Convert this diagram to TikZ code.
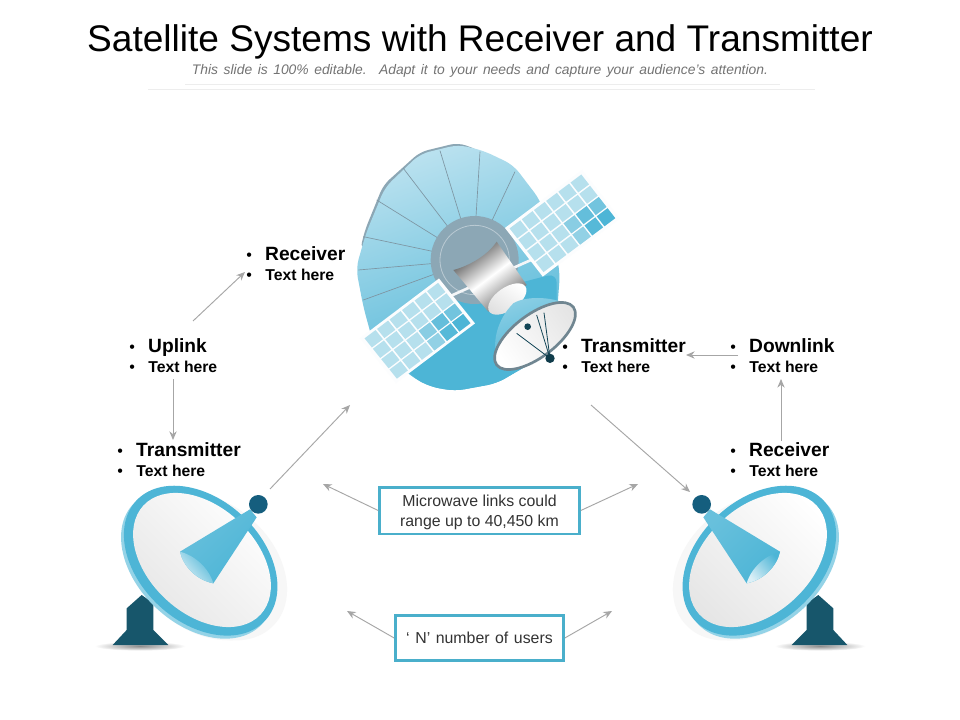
\documentclass[tikz,border=0pt]{standalone}
\usepackage{fontspec}
\setmainfont{Liberation Sans}
\usetikzlibrary{arrows.meta}
\definecolor{skyb}{HTML}{4DB5D6}
\definecolor{skyl}{HTML}{B9E1EF}
\definecolor{cellc}{HTML}{A9DAEA}
\definecolor{navy}{HTML}{17566B}
\definecolor{knob}{HTML}{155E7E}
\definecolor{hubc}{HTML}{8CA7B5}
\definecolor{linkc}{HTML}{A6A6A6}
\definecolor{boxc}{HTML}{4AAFCB}
\tikzset{
  px/.style={x=0.75pt,y=-0.75pt},
  zoomed/.style={x=0.25pt,y=-0.25pt},
  link/.style={draw=linkc,line width=0.7pt,-{Stealth[length=6.5pt,width=5.5pt]}},
  headtxt/.style={anchor=base west,inner sep=0pt,font=\fontsize{14.4pt}{16pt}\selectfont\bfseries},
  subtxt/.style={anchor=base west,inner sep=0pt,font=\fontsize{11.8pt}{13pt}\selectfont\bfseries},
  notebox/.style={draw=boxc,line width=2pt,fill=white,align=center,inner sep=0pt,font=\fontsize{11.9pt}{15pt}\selectfont,text=black!80},
  spoke/.style={draw=hubc!90!black,line width=0.5pt},
}
\newcommand{\smallbullet}{{\normalfont\fontsize{12pt}{10pt}\selectfont •}}
\newcommand{\lab}[4]{%
  \node[headtxt] (#1h) at (#2,#3+7) {\makebox[14.2pt][l]{\smallbullet}#4};
  \node[subtxt] (#1s) at (#2,#3+27) {\makebox[14.4pt][l]{\smallbullet}Text here};
}
\newcommand{\panel}[1]{%
  \begin{scope}[#1]
    \fill[white!96!cellc] (-.16,-.16) -- (6.16,-.16) -- (6.16,4.16) -- (-.16,4.16) -- cycle;
    \foreach \i in {0,...,5}{\foreach \j in {0,...,3}{
      \fill[cellc!85!white] (\i+.06,\j+.06) -- (\i+.94,\j+.06) -- (\i+.94,\j+.94) -- (\i+.06,\j+.94) -- cycle;
    }}
    \foreach \i/\j/\c in {5/3/100,4/3/90,5/2/60,4/2/75,3/2/35,3/3/25}{
      \fill[skyb!\c!cellc] (\i+.06,\j+.06) -- (\i+.94,\j+.06) -- (\i+.94,\j+.94) -- (\i+.06,\j+.94) -- cycle;
    }
  \end{scope}
}
\newcommand{\groundDish}{%
  \fill[black!3] (335,285) ellipse [x radius=66pt,y radius=46.5pt,rotate=-43];
  \fill[black!3] (365,290) ellipse [x radius=64pt,y radius=46.5pt,rotate=-43];
  \shade[inner color=black!45,outer color=white] (150,528) ellipse [x radius=34pt,y radius=3.5pt];
  \fill[navy] (155,375) -- (110,415) -- (110,480) -- (68,525) -- (235,525) -- (190,480) -- (190,400) -- cycle;
  \fill[skyb!60!white] (322,283) ellipse [x radius=66pt,y radius=45pt,rotate=-43];
  \fill[skyb] (332,272) ellipse [x radius=66pt,y radius=46pt,rotate=-43];
  \shade[left color=white,right color=black!10,shading angle=-45] (336,270) ellipse [x radius=60pt,y radius=40pt,rotate=-43];
  \shade[left color=skyb!85!white,right color=skyb,shading angle=45] (480,118) -- (500,142) -- (370,340) .. controls (320,330) and (280,290) .. (270,245) -- cycle;
  \shade[left color=skyb,right color=skyl!50!white,shading angle=-50] (270,245) .. controls (310,255) and (355,290) .. (370,340) .. controls (320,330) and (280,290) .. (270,245) -- cycle;
  \fill[knob] (505,103) circle [radius=7pt];
}
\begin{document}
\begin{tikzpicture}[px]
\useasboundingbox (0,0) rectangle (960,720);
\fill[white] (0,0) rectangle (960,720);

% title block
\node[inner sep=0pt,font=\fontsize{27.8pt}{32pt}\selectfont] (title) at (480,42) {Satellite Systems with Receiver and Transmitter};
\node[inner sep=0pt,text=black!55,font=\fontsize{10.4pt}{13pt}\selectfont\itshape] (subtitle) at (480,71) {\spaceskip=0.4em\relax This slide is 100\% editable. \ Adapt it to your needs and capture your audience\char"27 s attention.};
\coordinate (ruleAa) at (185,84); \coordinate (ruleAb) at (780,84);
\coordinate (ruleBa) at (148,89); \coordinate (ruleBb) at (815,89);
\draw[black!7,line width=0.6pt] (ruleAa) -- (ruleAb);
\draw[black!7,line width=0.6pt] (ruleBa) -- (ruleBb);

% satellite (coordinates: zoomed px)
\begin{scope}[shift={(340,130)},zoomed]
  \fill[hubc,rounded corners=6pt] (355,38) -- (240,66) -- (130,165) -- (75,300) -- (60,360) -- (120,300) -- (300,100) -- (420,62) -- cycle;
  \path[shade,left color=skyl,right color=skyb,shading angle=20,rounded corners=7pt]
    (355,44) -- (240,72) -- (135,172) -- (78,310) -- (48,415) -- (70,530) -- (100,640) -- (215,740) -- (270,770) -- (345,783) -- (470,760) -- (590,690) -- (650,560) -- (660,430) -- (640,330) -- (600,210) -- (520,105) -- (430,62) -- cycle;
  \fill[skyb,rounded corners=7pt] (300,520) -- (650,430) -- (650,560) -- (590,690) -- (470,760) -- (345,783) -- (270,770) -- (215,740) -- (190,700) -- cycle;
  \foreach \ex/\ey in {300/62,190/115,110/210,70/320,55/420,70/510,420/65,525/125}{
    \draw[spoke] (400,390) -- (\ex,\ey);
  }
  \fill[hubc] (404,390) circle [radius=33pt];
  \draw[hubc!60!white,line width=0.6pt] (404,390) circle [radius=26pt];
  \draw[white!90!hubc,line width=2pt] (300,512) -- (640,360);
  \shade[left color=black!70,right color=black!60,middle color=white,shading angle=37]
    (340,420) .. controls (380,410) and (440,380) .. (470,335) -- (560,465) -- (445,545) -- cycle;
  \shade[left color=white,right color=black!12,shading angle=-35] (502,507) ellipse [x radius=16.5pt,y radius=8.5pt,rotate=35];
  \shade[left color=skyl!60!skyb,right color=skyb,shading angle=20]
    (472,690) .. controls (455,640) and (470,570) .. (520,520) .. controls (560,495) and (650,500) .. (695,530) -- cycle;
  \shade[left color=black!10,right color=white,shading angle=-55,draw=hubc!80!black,line width=2pt]
    (585,618) ellipse [x radius=36pt,y radius=16pt,rotate=37];
  \fill[navy!80!black] (563,590) circle [radius=2.5pt];
  \foreach \sx/\sy in {530/610,590/555,612/548}{
    \draw[navy!80!black,line width=0.6pt] (630,685) -- (\sx,\sy);
  }
  \fill[navy!70!black] (630,685) circle [radius=3.5pt];
\end{scope}
\panel{shift={(508.3,228.3)},x={(9.15pt,6.88pt)},y={(6.56pt,-8.44pt)}}
\panel{shift={(363.3,338.3)},x={(9.38pt,7.08pt)},y={(6.25pt,-7.8pt)}}

% ground dishes
\begin{scope}[shift={(90,470)},zoomed]
  \groundDish
\end{scope}
\begin{scope}[shift={(960,0)},xscale=-1]
  \begin{scope}[shift={(90,470)},zoomed]
    \groundDish
  \end{scope}
\end{scope}

% labels
\lab{rxTop}{246}{254}{Receiver}
\lab{up}{129}{345}{Uplink}
\lab{txLeft}{117}{449}{Transmitter}
\lab{txMid}{562}{345}{Transmitter}
\lab{down}{730}{345}{Downlink}
\lab{rxRight}{730}{449}{Receiver}

% note boxes
\node[notebox,minimum width=150pt,minimum height=35pt] (micro) at (479.5,510.5) {\rule{0pt}{11pt}Microwave links could\\range up to 40,450 km};
\node[notebox,minimum width=126pt,minimum height=34pt] (users) at (479.5,638) {\spaceskip=0.35em\relax ‘ N’ number of users};

% connectors
\coordinate (a1) at (193,321); \coordinate (a2) at (245,272);
\coordinate (b1) at (173,379); \coordinate (b2) at (173,440);
\coordinate (c1) at (270,489); \coordinate (c2) at (350,405);
\coordinate (d1) at (591,405); \coordinate (d2) at (690,492);
\coordinate (e1) at (738,355); \coordinate (e2) at (686,355);
\coordinate (f1) at (781,441); \coordinate (f2) at (781,379);
\coordinate (g1) at (323,484); \coordinate (g2) at (638,484);
\coordinate (h1) at (347,611); \coordinate (h2) at (612,611);
\draw[link] (a1) -- (a2);
\draw[link] (b1) -- (b2);
\draw[link] (c1) -- (c2);
\draw[link] (d1) -- (d2);
\draw[link] (e1) -- (e2);
\draw[link] (f1) -- (f2);
\draw[link] (micro.west) -- (g1);
\draw[link] (micro.east) -- (g2);
\draw[link] (users.west) -- (h1);
\draw[link] (users.east) -- (h2);
\end{tikzpicture}
\end{document}
